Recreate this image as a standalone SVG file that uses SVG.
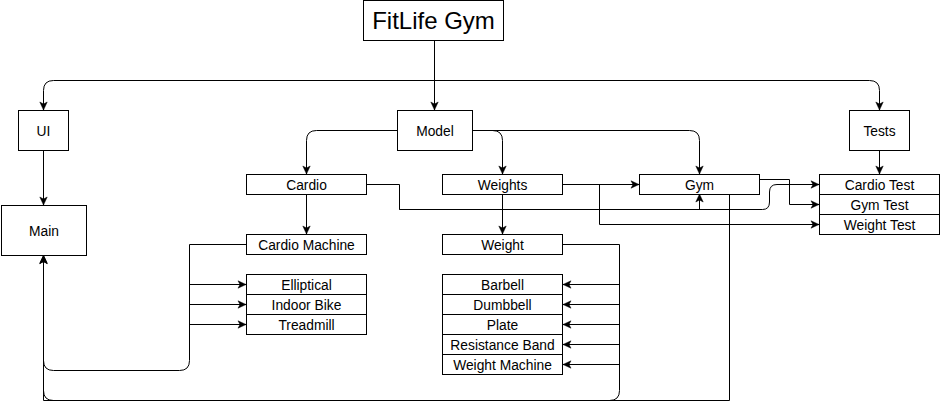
<svg xmlns="http://www.w3.org/2000/svg" width="940" height="409" viewBox="0 0 940 409">
<style>
.box{fill:#ffffff;stroke:#000000;stroke-width:1}
.lbl{font-family:"Liberation Sans",Arial,Helvetica,sans-serif;font-size:13.8px;fill:#000000;text-anchor:middle}
.title{font-family:"Liberation Sans",Arial,Helvetica,sans-serif;font-size:24px;fill:#000000;text-anchor:middle}
.edge{fill:none;stroke:#000000;stroke-width:1}
.arr{marker-end:url(#ah)}
</style>
<defs>
<marker id="ah" markerUnits="userSpaceOnUse" markerWidth="10" markerHeight="10" viewBox="0 0 10 10" refX="9" refY="5" orient="auto">
<path d="M1,1.3 L9,5 L1,8.7 L3,5 Z" fill="#000000" stroke="#000000" stroke-width="0.5"/>
</marker>
</defs>
<rect width="940" height="409" fill="#ffffff"/>
<g id="connectors">
<path class="edge arr" d="M434.5,40.5 V110"/>
<path class="edge arr" d="M434.5,40.5 V80.5 H53.5 Q43.5,80.5 43.5,90.5 V110"/>
<path class="edge arr" d="M434.5,40.5 V80.5 H869.5 Q879.5,80.5 879.5,90.5 V110"/>
<path class="edge arr" d="M43.5,150.5 V205"/>
<path class="edge arr" d="M397.5,130.5 H316.5 Q306.5,130.5 306.5,140.5 V174"/>
<path class="edge arr" d="M472.5,130.5 H492.5 Q502.5,130.5 502.5,140.5 V174"/>
<path class="edge arr" d="M472.5,130.5 H689.5 Q699.5,130.5 699.5,140.5 V174"/>
<path class="edge arr" d="M879.5,150.5 V174"/>
<path class="edge arr" d="M306.5,194 V234"/>
<path class="edge arr" d="M502.5,194 V234"/>
<path class="edge arr" d="M562.5,184.5 H639"/>
<path class="edge arr" d="M562.5,184.5 H599.5 V224.5 H819"/>
<path class="edge arr" d="M366.5,184.5 H399.5 V209.5 H699.5 V194"/>
<path class="edge arr" d="M399.5,209.5 H762.5 Q769.5,209.5 769.5,202 V192 Q769.5,184.5 777,184.5 H819"/>
<path class="edge arr" d="M759.5,179.5 H789.5 V204.5 H819"/>
<path class="edge arr" d="M729.5,194 V400.5 H43.5 V255.5"/>
<path class="edge arr" d="M562.5,244.5 H619.5 V390.5 Q619.5,400.5 609.5,400.5 H53.5 Q43.5,400.5 43.5,390.5 V255.5"/>
<path class="edge arr" d="M619.5,284.5 H563"/>
<path class="edge arr" d="M619.5,304.5 H563"/>
<path class="edge arr" d="M619.5,324.5 H563"/>
<path class="edge arr" d="M619.5,344.5 H563"/>
<path class="edge arr" d="M619.5,364.5 H563"/>
<path class="edge arr" d="M246.5,244.5 H189.5 V360.5 Q189.5,370.5 179.5,370.5 H53.5 Q43.5,370.5 43.5,360.5 V255.5"/>
<path class="edge arr" d="M189.5,284.5 H246"/>
<path class="edge arr" d="M189.5,304.5 H246"/>
<path class="edge arr" d="M189.5,324.5 H246"/>
</g>
<g id="fitlife"><rect class="box" x="363.5" y="0.5" width="140" height="40"/><text class="title" x="433.5" y="29">FitLife Gym</text></g>
<g id="ui"><rect class="box" x="18.5" y="110.5" width="50" height="40"/><text class="lbl" x="43.5" y="135.5">UI</text></g>
<g id="model"><rect class="box" x="397.5" y="110.5" width="75" height="40"/><text class="lbl" x="435" y="135.5">Model</text></g>
<g id="tests"><rect class="box" x="849.5" y="110.5" width="60" height="40"/><text class="lbl" x="879.5" y="135.5">Tests</text></g>
<g id="main"><rect class="box" x="1.5" y="205.5" width="85" height="50"/><text class="lbl" x="44" y="235.5">Main</text></g>
<g id="cardio"><rect class="box" x="246.5" y="174.5" width="120" height="20"/><text class="lbl" x="306.5" y="189.5">Cardio</text></g>
<g id="weights"><rect class="box" x="442.5" y="174.5" width="120" height="20"/><text class="lbl" x="502.5" y="189.5">Weights</text></g>
<g id="gym"><rect class="box" x="639.5" y="174.5" width="120" height="20"/><text class="lbl" x="699.5" y="189.5">Gym</text></g>
<g id="cardio-machine"><rect class="box" x="246.5" y="234.5" width="120" height="20"/><text class="lbl" x="306.5" y="249.5">Cardio Machine</text></g>
<g id="weight"><rect class="box" x="442.5" y="234.5" width="120" height="20"/><text class="lbl" x="502.5" y="249.5">Weight</text></g>
<g id="elliptical"><rect class="box" x="246.5" y="274.5" width="120" height="20"/><text class="lbl" x="306.5" y="289.5">Elliptical</text></g>
<g id="indoor-bike"><rect class="box" x="246.5" y="294.5" width="120" height="20"/><text class="lbl" x="306.5" y="309.5">Indoor Bike</text></g>
<g id="treadmill"><rect class="box" x="246.5" y="314.5" width="120" height="20"/><text class="lbl" x="306.5" y="329.5">Treadmill</text></g>
<g id="barbell"><rect class="box" x="442.5" y="274.5" width="120" height="20"/><text class="lbl" x="502.5" y="289.5">Barbell</text></g>
<g id="dumbbell"><rect class="box" x="442.5" y="294.5" width="120" height="20"/><text class="lbl" x="502.5" y="309.5">Dumbbell</text></g>
<g id="plate"><rect class="box" x="442.5" y="314.5" width="120" height="20"/><text class="lbl" x="502.5" y="329.5">Plate</text></g>
<g id="resistance-band"><rect class="box" x="442.5" y="334.5" width="120" height="20"/><text class="lbl" x="502.5" y="349.5">Resistance Band</text></g>
<g id="weight-machine"><rect class="box" x="442.5" y="354.5" width="120" height="20"/><text class="lbl" x="502.5" y="369.5">Weight Machine</text></g>
<g id="cardio-test"><rect class="box" x="819.5" y="174.5" width="120" height="20"/><text class="lbl" x="879.5" y="189.5">Cardio Test</text></g>
<g id="gym-test"><rect class="box" x="819.5" y="194.5" width="120" height="20"/><text class="lbl" x="879.5" y="209.5">Gym Test</text></g>
<g id="weight-test"><rect class="box" x="819.5" y="214.5" width="120" height="20"/><text class="lbl" x="879.5" y="229.5">Weight Test</text></g>
</svg>
